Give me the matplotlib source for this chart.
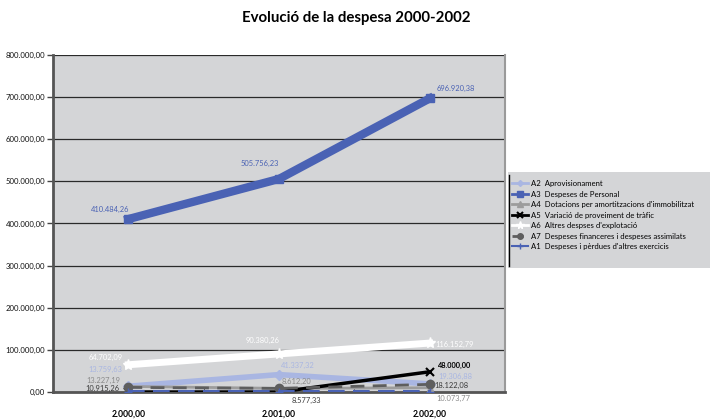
import matplotlib.pyplot as plt
from matplotlib.patches import Rectangle
from matplotlib.lines import Line2D

plt.rcParams['font.family'] = ['Lato', 'DejaVu Sans']

years = [2000, 2001, 2002]
a2 = [13759.63, 41337.32, 19306.88]
a3 = [410484.26, 505756.23, 696920.38]
a4 = [13227.19, 8612.20, 10073.77]
a5 = [0.0, 0.0, 48000.00]
a6 = [64702.09, 90380.26, 116152.79]
a7 = [10915.26, 8577.33, 18122.08]
a1 = [0.0, 0.0, 0.0]

names = ["A2  Aprovisionament",
         "A3  Despeses de Personal",
         "A4  Dotacions per amortitzacions d'immobilitzat",
         "A5  Variació de proveiment de tràfic",
         "A6  Altres despses d'explotació",
         "A7  Despeses financeres i despeses assimilats",
         "A1  Despeses i pèrdues d'altres exercicis"]

y_ticks = [0, 100000, 200000, 300000, 400000, 500000, 600000, 700000, 800000]


def fmt(v):
    s = f"{v:,.2f}"
    return s.replace(",", "X").replace(".", ",").replace("X", ".")


blue = "#4A62B4"
light = "#A9B6E2"
grey = "#9C9C9C"
dark = "#5E5E5E"
bg = "#D4D5D7"

fig = plt.figure(figsize=(7.10, 4.19), dpi=100)
ax = fig.add_axes([53 / 710, 1 - 392 / 419, 452 / 710, 337 / 419])
ax.set_facecolor(bg)

ax.plot(years, a2, color=light, lw=4, marker="D", ms=5, zorder=3)
ax.plot(years, a3, color=blue, lw=6, marker="s", ms=6, zorder=3)
ax.plot(years, a4, color=grey, lw=2, marker="^", ms=5, zorder=3)
ax.plot(years, a5, color="black", lw=2.5, marker="x", ms=6, mew=1.5, zorder=3)
ax.plot(years, a6, color="white", lw=5, marker="*", ms=8, zorder=3)
ax.plot(years, a7, color=dark, lw=2, ls=(0, (5, 3)), marker="o", ms=6, zorder=3)
ax.plot(years, a1, color=blue, lw=3, ls=(0, (4, 2)), marker="+", ms=6, zorder=4)

ax.set_xlim(1999.5, 2002.5)
ax.set_ylim(0, 800000)
ax.set_yticks(y_ticks)
ax.set_yticklabels([fmt(v) for v in y_ticks], fontsize=5.6, color="#111111")
ax.set_xticks(years)
ax.set_xticklabels([fmt(v) for v in years], fontsize=6.2, fontweight="bold")
ax.tick_params(axis="x", length=0, pad=13)
ax.set_xticks([2000.5, 2001.5, 2002.5], minor=True)
ax.tick_params(axis="x", which="minor", length=3, direction="in", color="#444444")
ax.tick_params(axis="y", length=4, width=1, color="#444444", pad=1.5)
ax.grid(axis="y", color="#2a2a2a", lw=0.9)
ax.set_axisbelow(True)
ax.spines["top"].set_visible(False)
ax.spines["right"].set_color("#9a9a9a")
ax.spines["right"].set_linewidth(1.5)
ax.spines["left"].set_color("#555555")
ax.spines["left"].set_linewidth(2)
ax.spines["bottom"].set_color("#555555")
ax.spines["bottom"].set_linewidth(2)


def lab(x, y, text, dx, dy, color, weight="normal"):
    ax.annotate(text, (x, y), xytext=(dx, -dy), textcoords="offset pixels",
                ha="center", va="center", fontsize=5.4, color=color,
                fontweight=weight, zorder=5)


# label offsets in pixels (dx, dy down)
for x, v, d in zip(years, a3, [(-18, -10), (-19, -15), (26, -10)]):
    lab(x, v, fmt(v), d[0], d[1], blue)
for x, v, d in zip(years, a6, [(-23, -7), (-16, -13), (25, 1)]):
    lab(x, v, fmt(v), d[0], d[1], "white")
for x, v, d in zip(years, a2, [(-23, -17), (19, -9), (26, -7)]):
    lab(x, v, fmt(v), d[0], d[1], light)
for x, v, d in zip(years, a4, [(-25, -6), (17, -7), (24, 11)]):
    lab(x, v, fmt(v), d[0], d[1], "#8a8a8a")
for x, v, d in zip(years, a7, [(-26, 1), (27, 12), (22, 1)]):
    lab(x, v, fmt(v), d[0], d[1], "#3a3a3a")
lab(years[2], a5[2], fmt(a5[2]), 24, -6, "black", "bold")

fig.text(356 / 710, 1 - 18 / 419, "Evolució de la despesa 2000-2002",
         ha="center", va="center", fontsize=10.8, fontweight="bold")

# legend box
fig.patches.append(Rectangle((508 / 710, 1 - 268 / 419), 202 / 710, 96 / 419,
                             transform=fig.transFigure, facecolor=bg,
                             edgecolor="none", zorder=0))
fig.lines.append(Line2D([509 / 710, 509 / 710], [1 - 266 / 419, 1 - 175 / 419],
                        transform=fig.transFigure, color="black", lw=1))

handles = [
    Line2D([], [], color=light, lw=2, marker="D", ms=3),
    Line2D([], [], color=blue, lw=2, marker="s", ms=4),
    Line2D([], [], color=grey, lw=2, marker="^", ms=4),
    Line2D([], [], color="black", lw=2, marker="x", ms=4, mew=1.5),
    Line2D([], [], color="white", lw=2, marker="*", ms=5.5),
    Line2D([], [], color=dark, lw=2, ls=(0, (4, 2)), marker="o", ms=4),
    Line2D([], [], color=blue, lw=1.5, marker="+", ms=5),
]
fig.legend(handles, names, loc="upper left",
           bbox_to_anchor=(512 / 710, 1 - 180 / 419), frameon=False,
           fontsize=5.6, handlelength=2.1, handletextpad=0.35,
           labelspacing=0.45, borderaxespad=0, borderpad=0)

fig.savefig("out.png", dpi=100)
